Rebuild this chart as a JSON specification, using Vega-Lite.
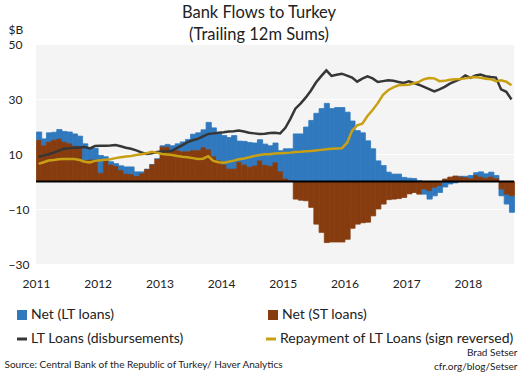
{
  "$schema": "https://vega.github.io/schema/vega-lite/v6.json",
  "width": 478,
  "height": 220,
  "autosize": {"type": "none"},
  "padding": {"left": 36, "top": 44, "right": 6, "bottom": 110},
  "background": "white",
  "config": {
    "font": "Lato",
    "view": {"fill": "#f4f4f4", "stroke": null},
    "legend": {"padding": 0}
  },
  "title": {
    "text": ["Bank Flows to Turkey", "(Trailing 12m Sums)"],
    "fontSize": 16.5,
    "fontWeight": "normal",
    "color": "#222222",
    "anchor": "middle",
    "frame": "group",
    "dx": -16,
    "dy": 26,
    "offset": 6,
    "lineHeight": 22
  },
  "datasets": {
    "flows": [
      {"d": "2011-01-15", "lt": 3.1, "st": 14.9, "disb": 9.0, "rep": 6.4},
      {"d": "2011-02-15", "lt": 2.5, "st": 13.0, "disb": 9.4, "rep": 7.0},
      {"d": "2011-03-15", "lt": 3.4, "st": 14.3, "disb": 9.9, "rep": 7.6},
      {"d": "2011-04-15", "lt": 2.9, "st": 15.0, "disb": 10.5, "rep": 7.8},
      {"d": "2011-05-15", "lt": 3.5, "st": 15.4, "disb": 11.2, "rep": 8.1},
      {"d": "2011-06-15", "lt": 3.9, "st": 14.3, "disb": 11.9, "rep": 8.2},
      {"d": "2011-07-15", "lt": 4.3, "st": 13.7, "disb": 12.1, "rep": 8.2},
      {"d": "2011-08-15", "lt": 4.5, "st": 12.8, "disb": 12.3, "rep": 8.2},
      {"d": "2011-09-15", "lt": 4.0, "st": 12.5, "disb": 12.4, "rep": 7.8},
      {"d": "2011-10-15", "lt": 6.1, "st": 7.6, "disb": 12.5, "rep": 7.2},
      {"d": "2011-11-15", "lt": 4.2, "st": 7.8, "disb": 12.0, "rep": 6.9},
      {"d": "2011-12-15", "lt": 4.2, "st": 7.8, "disb": 12.9, "rep": 7.5},
      {"d": "2012-01-15", "lt": 6.5, "st": 3.0, "disb": 13.0, "rep": 7.7},
      {"d": "2012-02-15", "lt": 1.5, "st": 7.5, "disb": 13.0, "rep": 7.9},
      {"d": "2012-03-15", "lt": 1.2, "st": 6.0, "disb": 13.1, "rep": 8.1},
      {"d": "2012-04-15", "lt": 1.0, "st": 5.5, "disb": 13.3, "rep": 8.5},
      {"d": "2012-05-15", "lt": 1.7, "st": 4.0, "disb": 12.8, "rep": 8.8},
      {"d": "2012-06-15", "lt": 2.6, "st": 2.7, "disb": 12.3, "rep": 9.1},
      {"d": "2012-07-15", "lt": 2.8, "st": 2.5, "disb": 11.9, "rep": 9.3},
      {"d": "2012-08-15", "lt": 1.7, "st": 1.8, "disb": 11.3, "rep": 9.6},
      {"d": "2012-09-15", "lt": 0.7, "st": 2.8, "disb": 10.6, "rep": 9.9},
      {"d": "2012-10-15", "lt": 0.2, "st": 4.3, "disb": 10.0, "rep": 10.3},
      {"d": "2012-11-15", "lt": 0.2, "st": 6.0, "disb": 10.3, "rep": 10.8},
      {"d": "2012-12-15", "lt": 0.3, "st": 8.0, "disb": 10.7, "rep": 10.5},
      {"d": "2013-01-15", "lt": 0.5, "st": 12.5, "disb": 10.9, "rep": 10.0},
      {"d": "2013-02-15", "lt": 1.0, "st": 12.5, "disb": 11.0, "rep": 9.8},
      {"d": "2013-03-15", "lt": 1.8, "st": 11.2, "disb": 11.2, "rep": 9.6},
      {"d": "2013-04-15", "lt": 2.5, "st": 11.2, "disb": 12.2, "rep": 9.3},
      {"d": "2013-05-15", "lt": 3.6, "st": 10.8, "disb": 13.2, "rep": 9.0},
      {"d": "2013-06-15", "lt": 4.5, "st": 10.8, "disb": 14.3, "rep": 8.8},
      {"d": "2013-07-15", "lt": 6.0, "st": 11.2, "disb": 15.0, "rep": 8.5},
      {"d": "2013-08-15", "lt": 6.5, "st": 11.2, "disb": 15.5, "rep": 8.2},
      {"d": "2013-09-15", "lt": 6.5, "st": 12.3, "disb": 16.4, "rep": 8.3},
      {"d": "2013-10-15", "lt": 10.0, "st": 11.5, "disb": 17.3, "rep": 9.2},
      {"d": "2013-11-15", "lt": 10.5, "st": 9.0, "disb": 17.5, "rep": 7.5},
      {"d": "2013-12-15", "lt": 10.0, "st": 7.5, "disb": 17.7, "rep": 7.0},
      {"d": "2014-01-15", "lt": 10.7, "st": 6.0, "disb": 17.9, "rep": 6.8},
      {"d": "2014-02-15", "lt": 11.5, "st": 4.5, "disb": 18.2, "rep": 7.2},
      {"d": "2014-03-15", "lt": 12.2, "st": 4.5, "disb": 18.3, "rep": 7.6},
      {"d": "2014-04-15", "lt": 7.7, "st": 7.0, "disb": 18.5, "rep": 8.1},
      {"d": "2014-05-15", "lt": 8.6, "st": 6.0, "disb": 18.2, "rep": 8.4},
      {"d": "2014-06-15", "lt": 9.0, "st": 5.2, "disb": 17.7, "rep": 8.8},
      {"d": "2014-07-15", "lt": 8.4, "st": 5.6, "disb": 17.5, "rep": 9.3},
      {"d": "2014-08-15", "lt": 7.7, "st": 7.5, "disb": 17.3, "rep": 9.6},
      {"d": "2014-09-15", "lt": 7.7, "st": 5.9, "disb": 17.4, "rep": 9.9},
      {"d": "2014-10-15", "lt": 7.5, "st": 5.5, "disb": 17.6, "rep": 9.9},
      {"d": "2014-11-15", "lt": 7.2, "st": 6.8, "disb": 17.7, "rep": 10.2},
      {"d": "2014-12-15", "lt": 7.7, "st": 3.5, "disb": 17.5, "rep": 10.3},
      {"d": "2015-01-15", "lt": 11.0, "st": 0.9, "disb": 19.5, "rep": 10.4},
      {"d": "2015-02-15", "lt": 11.6, "st": 0.3, "disb": 22.8, "rep": 10.5},
      {"d": "2015-03-15", "lt": 17.3, "st": -6.4, "disb": 26.5, "rep": 10.7},
      {"d": "2015-04-15", "lt": 17.3, "st": -6.8, "disb": 28.3, "rep": 10.8},
      {"d": "2015-05-15", "lt": 19.8, "st": -7.0, "disb": 30.5, "rep": 11.0},
      {"d": "2015-06-15", "lt": 22.2, "st": -9.4, "disb": 33.0, "rep": 11.1},
      {"d": "2015-07-15", "lt": 24.8, "st": -15.5, "disb": 36.0, "rep": 11.3},
      {"d": "2015-08-15", "lt": 26.5, "st": -18.5, "disb": 38.3, "rep": 11.5},
      {"d": "2015-09-15", "lt": 28.4, "st": -22.2, "disb": 40.4, "rep": 11.7},
      {"d": "2015-10-15", "lt": 26.5, "st": -22.0, "disb": 38.4, "rep": 11.9},
      {"d": "2015-11-15", "lt": 26.9, "st": -22.0, "disb": 38.8, "rep": 12.0},
      {"d": "2015-12-15", "lt": 26.9, "st": -22.0, "disb": 39.2, "rep": 12.1},
      {"d": "2016-01-15", "lt": 25.2, "st": -21.0, "disb": 38.5, "rep": 14.0},
      {"d": "2016-02-15", "lt": 22.0, "st": -17.0, "disb": 37.8, "rep": 18.5},
      {"d": "2016-03-15", "lt": 18.5, "st": -15.5, "disb": 36.3, "rep": 20.4},
      {"d": "2016-04-15", "lt": 17.7, "st": -15.0, "disb": 37.4, "rep": 21.0},
      {"d": "2016-05-15", "lt": 14.8, "st": -14.8, "disb": 38.2, "rep": 23.8},
      {"d": "2016-06-15", "lt": 11.9, "st": -12.5, "disb": 37.5, "rep": 26.0},
      {"d": "2016-07-15", "lt": 7.5, "st": -10.0, "disb": 36.2, "rep": 28.5},
      {"d": "2016-08-15", "lt": 5.8, "st": -8.2, "disb": 36.5, "rep": 31.5},
      {"d": "2016-09-15", "lt": 3.4, "st": -6.6, "disb": 36.8, "rep": 33.2},
      {"d": "2016-10-15", "lt": 2.7, "st": -6.4, "disb": 36.6, "rep": 34.2},
      {"d": "2016-11-15", "lt": 2.7, "st": -6.2, "disb": 36.2, "rep": 35.0},
      {"d": "2016-12-15", "lt": 1.5, "st": -5.8, "disb": 35.8, "rep": 35.1},
      {"d": "2017-01-15", "lt": 1.2, "st": -4.5, "disb": 36.4, "rep": 35.2},
      {"d": "2017-02-15", "lt": 1.1, "st": -4.0, "disb": 35.8, "rep": 35.7},
      {"d": "2017-03-15", "lt": 0.3, "st": -4.6, "disb": 35.2, "rep": 36.2},
      {"d": "2017-04-15", "lt": -1.9, "st": -2.7, "disb": 34.4, "rep": 37.2},
      {"d": "2017-05-15", "lt": -3.1, "st": -3.3, "disb": 33.6, "rep": 37.6},
      {"d": "2017-06-15", "lt": -3.1, "st": -2.1, "disb": 32.8, "rep": 37.5},
      {"d": "2017-07-15", "lt": -2.5, "st": -1.5, "disb": 33.5, "rep": 36.5},
      {"d": "2017-08-15", "lt": -2.0, "st": 0.9, "disb": 34.4, "rep": 36.6},
      {"d": "2017-09-15", "lt": -0.9, "st": 1.6, "disb": 35.6, "rep": 37.0},
      {"d": "2017-10-15", "lt": -0.5, "st": 2.0, "disb": 36.4, "rep": 37.2},
      {"d": "2017-11-15", "lt": 0.3, "st": 1.6, "disb": 37.2, "rep": 37.3},
      {"d": "2017-12-15", "lt": 0.5, "st": 1.4, "disb": 38.6, "rep": 37.5},
      {"d": "2018-01-15", "lt": 1.2, "st": 1.0, "disb": 37.7, "rep": 37.8},
      {"d": "2018-02-15", "lt": 1.0, "st": 2.2, "disb": 38.6, "rep": 38.0},
      {"d": "2018-03-15", "lt": 1.9, "st": 1.6, "disb": 38.9, "rep": 37.7},
      {"d": "2018-04-15", "lt": 1.6, "st": 1.2, "disb": 38.3, "rep": 37.4},
      {"d": "2018-05-15", "lt": 1.8, "st": 1.6, "disb": 38.0, "rep": 37.2},
      {"d": "2018-06-15", "lt": 1.2, "st": 1.0, "disb": 37.8, "rep": 36.5},
      {"d": "2018-07-15", "lt": -2.5, "st": -2.7, "disb": 33.5, "rep": 36.8},
      {"d": "2018-08-15", "lt": -3.6, "st": -4.6, "disb": 32.6, "rep": 36.3},
      {"d": "2018-09-15", "lt": -6.0, "st": -5.2, "disb": 29.8, "rep": 35.0}
    ]
  },
  "data": {"name": "flows"},
  "resolve": {"axis": {"x": "independent"}},
  "layer": [
    {
      "transform": [{"fold": ["lt", "st"], "as": ["key", "v"]}],
      "mark": {"type": "bar", "binSpacing": 0, "strokeWidth": 0.8},
      "encoding": {
        "x": {
          "field": "d",
          "timeUnit": "yearmonth",
          "type": "temporal",
          "scale": {
            "domain": [{"year": 2011, "month": 1, "date": 1}, {"year": 2018, "month": 10, "date": 1}],
            "nice": false
          },
          "axis": {
            "format": "%Y",
            "tickCount": {"interval": "year", "step": 1},
            "labelFlush": false,
            "labelOverlap": false,
            "ticks": false,
            "domain": false,
            "grid": false,
            "labelPadding": 14,
            "labelFontSize": 12,
            "labelColor": "#222222",
            "title": "Source: Central Bank of the Republic of Turkey/ Haver Analytics",
            "titleFontSize": 10,
            "titleFontWeight": "normal",
            "titleColor": "#222222",
            "titleAnchor": "start",
            "titleAlign": "left",
            "titleBaseline": "middle",
            "titleX": -32,
            "titleY": 100
          }
        },
        "y": {
          "field": "v",
          "type": "quantitative",
          "stack": "zero",
          "scale": {"domain": [-30, 50], "nice": false},
          "axis": {
            "values": [-30, -20, -10, 0, 10, 20, 30, 40, 50],
            "title": "$B",
            "titleAngle": 0,
            "titleAlign": "left",
            "titleBaseline": "middle",
            "titleX": -28,
            "titleY": -15,
            "titleFontSize": 12,
            "titleFontWeight": "normal",
            "titleColor": "#222222",
            "labelAlign": "left",
            "labelPadding": 28,
            "labelFontSize": 12,
            "labelColor": "#222222",
            "ticks": false,
            "tickSize": 0,
            "domain": false,
            "grid": true,
            "gridColor": "#ffffff",
            "gridWidth": 1.2
          }
        },
        "fill": {
          "field": "key",
          "type": "nominal",
          "scale": {"domain": ["lt", "st"], "range": ["#3079be", "#873c0f"]},
          "legend": {
            "orient": "none",
            "legendX": -21,
            "legendY": 264,
            "direction": "horizontal",
            "columns": 2,
            "title": null,
            "symbolType": "square",
            "symbolSize": 100,
            "symbolStrokeWidth": 0,
            "labelFontSize": 14,
            "labelLimit": 320,
            "labelColor": "#222222",
            "labelOffset": 2,
            "columnPadding": 151,
            "labelExpr": "datum.label == 'lt' ? 'Net (LT loans)' : 'Net (ST loans)'"
          }
        },
        "stroke": {
          "field": "key",
          "type": "nominal",
          "scale": {"domain": ["lt", "st"], "range": ["#3079be", "#873c0f"]},
          "legend": null
        },
        "order": {"field": "key", "sort": "descending"}
      }
    },
    {
      "data": {"values": [{"z": 0}]},
      "mark": {"type": "rule", "color": "#000000", "strokeWidth": 2},
      "encoding": {"y": {"field": "z", "type": "quantitative"}}
    },
    {
      "transform": [{"fold": ["disb", "rep"], "as": ["key", "v"]}],
      "mark": {"type": "line", "strokeWidth": 2.5},
      "encoding": {
        "x": {
          "field": "d",
          "timeUnit": "yearmonth",
          "type": "temporal",
          "bandPosition": 0.5,
          "axis": {
            "orient": "bottom",
            "labels": false,
            "ticks": false,
            "domain": false,
            "grid": false,
            "title": ["Brad Setser", "cfr.org/blog/Setser"],
            "titleFontSize": 10,
            "titleFontWeight": "normal",
            "titleColor": "#222222",
            "titleAlign": "right",
            "titleAnchor": "end",
            "titleBaseline": "middle",
            "titleLineHeight": 14,
            "titleX": 481,
            "titleY": 88
          }
        },
        "y": {"field": "v", "type": "quantitative"},
        "color": {
          "field": "key",
          "type": "nominal",
          "scale": {"domain": ["disb", "rep"], "range": ["#363636", "#c9a014"]},
          "legend": {
            "orient": "none",
            "legendX": -21,
            "legendY": 288,
            "direction": "horizontal",
            "columns": 2,
            "title": null,
            "symbolType": "stroke",
            "symbolSize": 100,
            "symbolStrokeWidth": 3,
            "labelFontSize": 14,
            "labelLimit": 320,
            "labelColor": "#222222",
            "labelOffset": 2,
            "columnPadding": 76,
            "labelExpr": "datum.label == 'disb' ? 'LT Loans (disbursements)' : 'Repayment of LT Loans (sign reversed)'"
          }
        }
      }
    }
  ]
}
